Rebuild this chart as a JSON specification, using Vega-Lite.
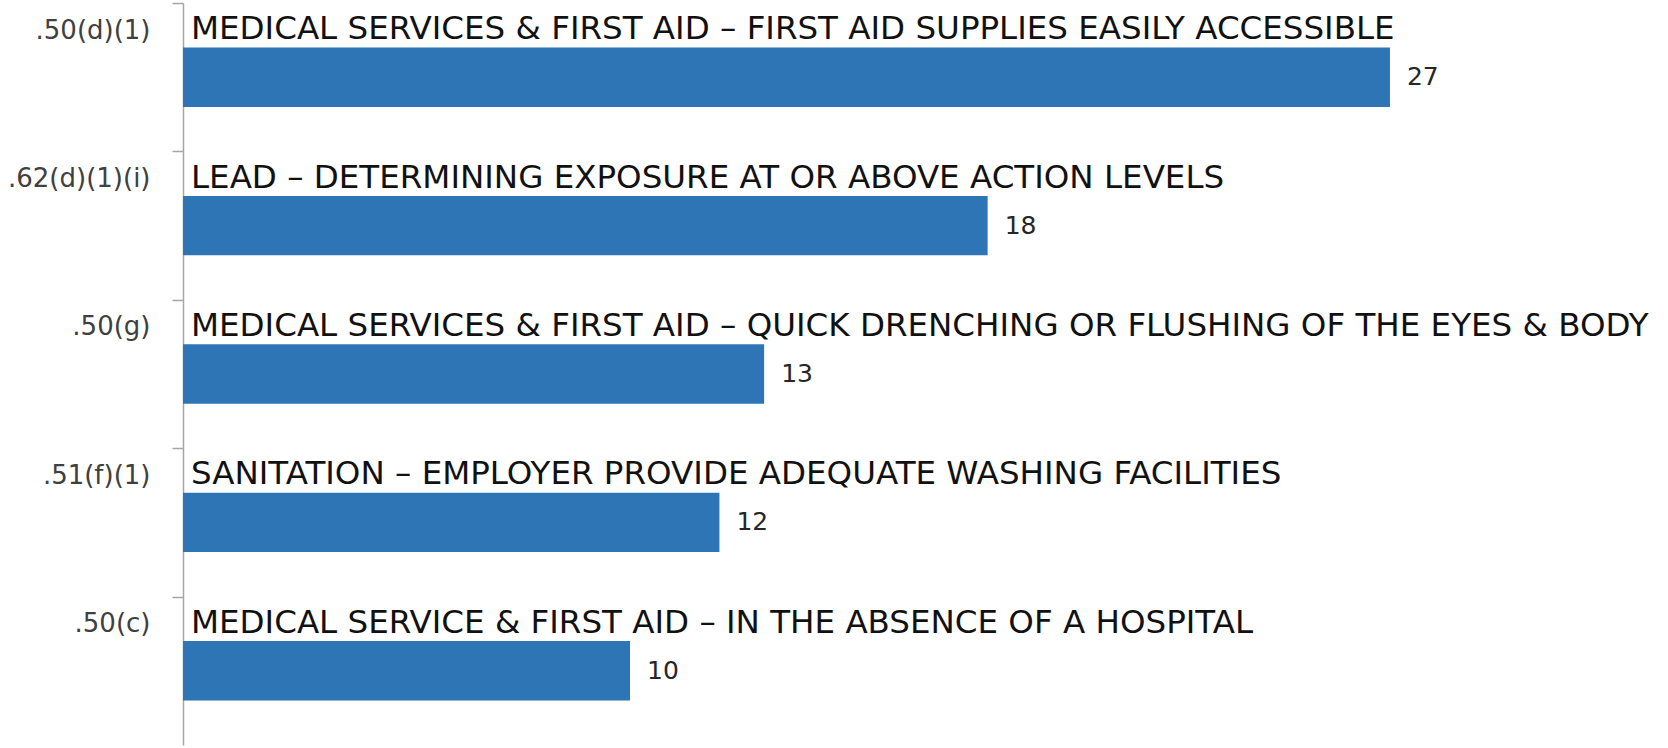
{
  "$schema": "https://vega.github.io/schema/vega-lite/v6.json",
  "width": 1485,
  "height": 742,
  "autosize": {"type": "none"},
  "padding": {"left": 183, "top": 3, "right": 0, "bottom": 3},
  "background": "white",
  "config": {"view": {"stroke": null}},
  "data": {
    "values": [
      {"code": ".50(d)(1)", "desc": "MEDICAL SERVICES & FIRST AID – FIRST AID SUPPLIES EASILY ACCESSIBLE", "count": 27},
      {"code": ".62(d)(1)(i)", "desc": "LEAD – DETERMINING EXPOSURE AT OR ABOVE ACTION LEVELS", "count": 18},
      {"code": ".50(g)", "desc": "MEDICAL SERVICES & FIRST AID – QUICK DRENCHING OR FLUSHING OF THE EYES & BODY", "count": 13},
      {"code": ".51(f)(1)", "desc": "SANITATION – EMPLOYER PROVIDE ADEQUATE WASHING FACILITIES", "count": 12},
      {"code": ".50(c)", "desc": "MEDICAL SERVICE & FIRST AID – IN THE ABSENCE OF A HOSPITAL", "count": 10}
    ]
  },
  "encoding": {
    "y": {
      "field": "code",
      "type": "nominal",
      "sort": null,
      "scale": {"paddingInner": 0.6, "paddingOuter": 0.3},
      "axis": {
        "title": null,
        "labelFont": "DejaVu Sans",
        "labelFontSize": 26,
        "labelColor": "#404040",
        "tickOffset": -74.2,
        "labelOffset": 27,
        "labelPadding": 22,
        "tickSize": 11,
        "tickColor": "#a6a6a6",
        "tickWidth": 1.5,
        "domainColor": "#a6a6a6",
        "domainWidth": 1.5,
        "grid": false
      }
    }
  },
  "layer": [
    {
      "mark": {"type": "bar", "color": "#2E75B6"},
      "encoding": {
        "x": {"field": "count", "type": "quantitative", "scale": {"domain": [0, 33.22], "nice": false, "zero": true}, "axis": null}
      }
    },
    {
      "mark": {"type": "text", "align": "left", "baseline": "middle", "dx": 17, "font": "DejaVu Sans", "fontSize": 25, "color": "#262626"},
      "encoding": {
        "x": {"field": "count", "type": "quantitative"},
        "text": {"field": "count", "type": "quantitative"}
      }
    },
    {
      "mark": {"type": "text", "align": "left", "baseline": "alphabetic", "dx": 8, "dy": -38, "font": "DejaVu Sans", "fontSize": 32.5, "color": "#111111"},
      "encoding": {
        "x": {"datum": 0, "type": "quantitative"},
        "text": {"field": "desc", "type": "nominal"}
      }
    }
  ]
}
